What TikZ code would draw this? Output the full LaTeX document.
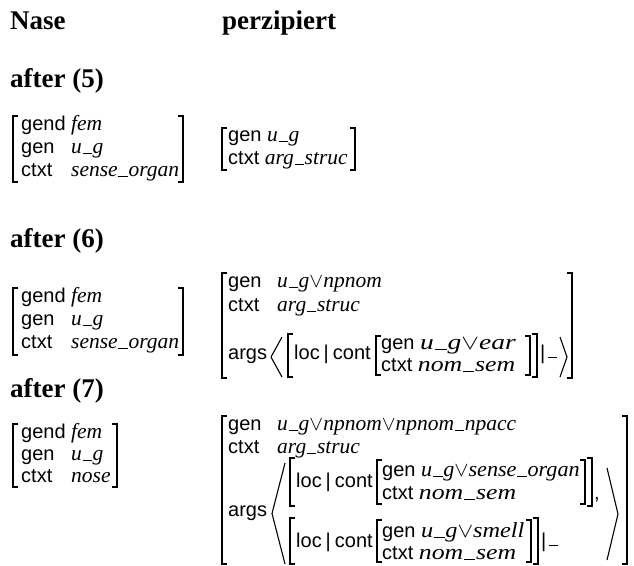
\documentclass[tikz,border=0pt]{standalone}
\usepackage{fontspec}
\usepackage{graphicx}
\setmainfont{Liberation Serif}
\setsansfont{Liberation Sans}
\newcommand\us{\kern0.03em\rule[-0.04em]{0.44em}{0.045em}\kern0.03em}
\newcommand\orr{\ensuremath{\vee}}
\newcommand\vv[1]{{\fontsize{21.5}{24}\selectfont\rmfamily\itshape #1}}
\newcommand\sx[2]{\scalebox{#1}[1]{#2}}
\newcommand\dashbar{\rule[0.05em]{0.45em}{0.06em}}
\newcommand\lc{loc\hspace{0.2em}|\hspace{0.2em}cont}
\newcommand\avmL[3]{\draw[brk] (#1+5,#2) -- (#1,#2) -- (#1,#3) -- (#1+5,#3);}
\newcommand\avmR[3]{\draw[brk] (#1-5,#2) -- (#1,#2) -- (#1,#3) -- (#1-5,#3);}
\newcommand\angL[4]{\draw[brk] (#2,#3) -- (#1,{(#3+#4)/2}) -- (#2,#4);}
\tikzset{
  hd/.style={anchor=base west, inner sep=0pt, font=\fontsize{27}{30}\selectfont\bfseries},
  ft/.style={anchor=base west, inner sep=0pt, font=\fontsize{20}{24}\selectfont\sffamily},
  vl/.style={anchor=base west, inner sep=0pt, font=\fontsize{21.5}{24}\selectfont\rmfamily\itshape},
  brk/.style={line width=1.1pt, line cap=butt, line join=miter},
}
\begin{document}
\begin{tikzpicture}[x=1pt,y=-1pt]
\useasboundingbox (0,0) rectangle (634,565);
% headings
\node[hd] (nase) at (10,29) {Nase};
\node[hd] (perz) at (222,29) {perzipiert};
\node[hd] (a5) at (10,87) {after (5)};
\node[hd] (a6) at (10,247) {after (6)};
\node[hd] (a7) at (10,397) {after (7)};

% AVM1
\avmL{13}{116}{182}
\avmR{183}{116}{182}
\node[ft] (a1f1) at (21,130) {gend};
\node[ft] (a1f2) at (21,153) {gen};
\node[ft] (a1f3) at (21,176) {ctxt};
\node[vl] (a1v1) at (71,130) {fem};
\node[vl] (a1v2) at (71,153) {u\us g};
\node[vl] (a1v3) at (71,176) {sense\us organ};

% AVM2
\avmL{222}{128}{170}
\avmR{355}{128}{170}
\node[ft] (a2r1) at (228,141) {gen \vv{u\us g}};
\node[ft] (a2r2) at (228,164) {ctxt \vv{arg\us struc}};

% AVM3
\avmL{13}{288}{355}
\avmR{183}{288}{355}
\node[ft] (a3f1) at (21,302) {gend};
\node[ft] (a3f2) at (21,325) {gen};
\node[ft] (a3f3) at (21,348) {ctxt};
\node[vl] (a3v1) at (71,302) {fem};
\node[vl] (a3v2) at (71,325) {u\us g};
\node[vl] (a3v3) at (71,348) {sense\us organ};

% AVM4
\avmL{222}{273}{378}
\avmR{572}{273}{378}
\node[ft] (a4f1) at (228,287) {gen};
\node[ft] (a4f2) at (228,311) {ctxt};
\node[ft] (a4f3) at (228,359) {args};
\node[vl] (a4v1) at (277,287) {u\us g\orr npnom};
\node[vl] (a4v2) at (277,311) {arg\us struc};
\angL{271}{282}{337}{377}
\avmL{288}{334}{377}
\node[ft] (a4loc) at (294,359) {\lc};
\avmL{376}{336}{375}
\node[ft] (a4i1) at (381,349) {gen \vv{\sx{1.28}{u\us g\orr ear}}};
\node[ft] (a4i2) at (381,371) {ctxt \vv{\sx{1.2}{nom\us sem}}};
\avmR{530}{336}{375}
\avmR{537}{334}{377}
\node[ft] (a4bar) at (540,359) {|\hspace{0.12em}\dashbar};
\angL{567}{560}{337}{377}

% AVM5
\avmL{13}{424}{487}
\avmR{117}{424}{487}
\node[ft] (a5f1) at (21,438) {gend};
\node[ft] (a5f2) at (21,460) {gen};
\node[ft] (a5f3) at (21,482) {ctxt};
\node[vl] (a5v1) at (71,438) {fem};
\node[vl] (a5v2) at (71,460) {u\us g};
\node[vl] (a5v3) at (71,482) {nose};

% AVM6
\avmL{222}{416}{564}
\avmR{627}{416}{564}
\node[ft] (a6f1) at (228,430) {gen};
\node[ft] (a6f2) at (228,453) {ctxt};
\node[ft] (a6f3) at (228,516) {args};
\node[vl] (a6v1) at (277,430) {u\us g\orr npnom\orr npnom\us npacc};
\node[vl] (a6v2) at (277,453) {arg\us struc};
\angL{272}{285}{463}{564}
% element 1
\avmL{290}{458}{506}
\node[ft] (a6loc1) at (296,487) {\lc};
\avmL{377}{460}{504}
\node[ft] (a6i1) at (382,476) {gen \vv{\sx{1.03}{u\us g\orr sense\us organ}}};
\node[ft] (a6i2) at (382,499) {ctxt \vv{\sx{1.2}{nom\us sem}}};
\avmR{585}{460}{504}
\avmR{592}{458}{506}
\node[ft] (a6com) at (594,499) {,};
% element 2
\avmL{290}{518}{564}
\node[ft] (a6loc2) at (296,547) {\lc};
\avmL{377}{520}{562}
\node[ft] (a6i3) at (382,537) {gen \vv{\sx{1.13}{u\us g\orr smell}}};
\node[ft] (a6i4) at (382,559) {ctxt \vv{\sx{1.2}{nom\us sem}}};
\avmR{531}{520}{562}
\avmR{538}{518}{564}
\node[ft] (a6bar) at (541,547) {|\hspace{0.12em}\dashbar};
\angL{618}{607}{468}{560}
\end{tikzpicture}
\end{document}
